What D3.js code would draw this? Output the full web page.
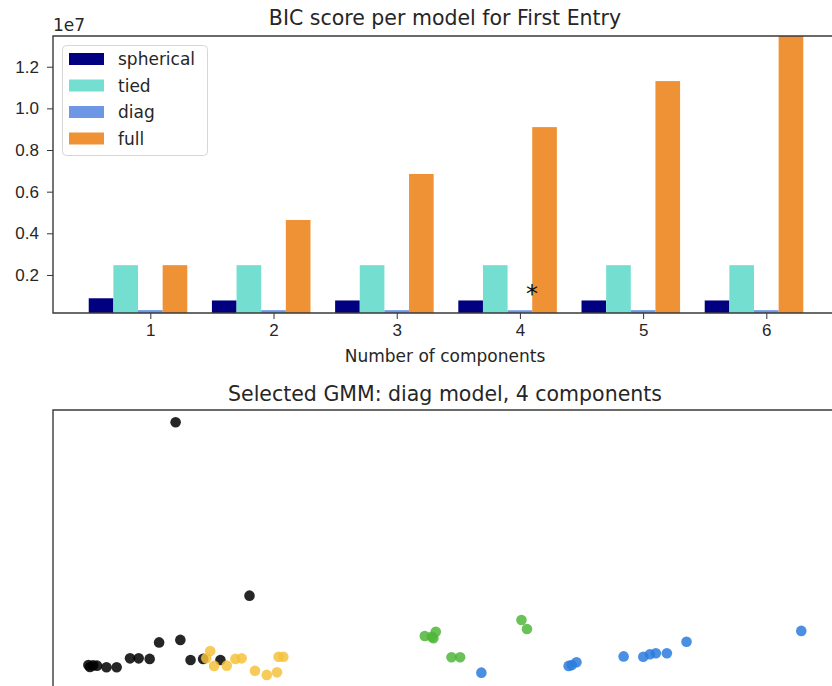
<!DOCTYPE html>
<html>

<head>
    <script src="https://d3js.org/d3.v7.min.js"></script>
    <style>
        body {
            margin: 0;
            background: #fff;
            font-family: "DejaVu Sans", sans-serif;
        }

        .tick text {
            font-size: 17px;
            fill: #262626;
        }

        .tick line {
            stroke: #333;
        }

        .spine {
            fill: none;
            stroke: #3a3a3a;
            stroke-width: 1.4px;
        }

        .title {
            font-size: 20.5px;
            fill: #262626;
        }

        .axis-label {
            font-size: 17px;
            fill: #262626;
        }
    </style>
</head>

<body>
    <script>
        // BIC scores per covariance type, for 1..6 components
        var components = [1, 2, 3, 4, 5, 6];
        var covTypes = ["spherical", "tied", "diag", "full"];
        var spherical = [880000, 775000, 775000, 775000, 775000, 775000];
        var tied = [2470000, 2470000, 2470000, 2470000, 2470000, 2470000];
        var diag = [312000, 310000, 310000, 305000, 310000, 310000];
        var full = [2470000, 4640000, 6850000, 9100000, 11310000, 13475000];
        var yTicks = [2000000, 4000000, 6000000, 8000000, 10000000, 12000000];
        var barColors = ["#000080", "#74dfd1", "#6e98e6", "#ef9236"];

        // selected model clusters (arbitrary projected units)
        var blackX = [15.6, 25.0, 13.5, 16.2, 4.5, 4.7, 5.1, 5.6, 6.8, 8.1, 9.8, 10.9, 12.3, 17.5, 19.1, 21.3];
        var blackY = [95.6, 33.7, 17.0, 17.9, 8.9, 8.2, 8.8, 8.7, 8.1, 8.1, 11.3, 11.3, 11.1, 10.7, 11.1, 10.7];
        var yellowX = [20.0, 19.5, 20.5, 22.1, 23.2, 24.0, 25.7, 27.2, 28.5, 28.7, 29.3];
        var yellowY = [13.9, 11.3, 8.6, 8.7, 11.1, 11.3, 6.9, 5.4, 6.3, 11.9, 11.9];
        var greenX = [47.3, 48.2, 48.7, 48.4, 50.7, 51.8, 59.6, 60.3];
        var greenY = [19.3, 19.0, 20.8, 18.5, 11.7, 11.7, 25.0, 21.8];
        var blueX = [54.5, 65.6, 66.0, 66.6, 72.6, 75.1, 75.95, 76.7, 78.1, 80.6, 95.2];
        var blueY = [6.2, 8.6, 8.9, 9.9, 12.0, 11.9, 12.75, 13.1, 13.1, 17.25, 21.1];
        var clusterColors = ["#000000", "#f4c23c", "#4fb63a", "#2c7bdd"];

        var svg = d3.select("body").append("svg")
            .attr("width", 832)
            .attr("height", 686);

        // ---------- top panel: BIC bars ----------
        var box1 = { left: 53, right: 839, top: 36, bottom: 313 };
        var series = [spherical, tied, diag, full];
        var allBic = d3.merge(series);
        var bicMin = d3.min(allBic), bicMax = d3.max(allBic);

        var x = d3.scaleLinear()
            .domain([0.21, 6.59])
            .range([box1.left, box1.right]);
        var y = d3.scaleLinear()
            .domain([bicMin * 1.01 - 0.01 * bicMax, bicMax])
            .range([box1.bottom, box1.top]);

        var g1 = svg.append("g");
        svg.append("clipPath").attr("id", "clip1")
            .append("rect")
            .attr("x", box1.left).attr("y", box1.top)
            .attr("width", box1.right - box1.left)
            .attr("height", box1.bottom - box1.top);

        var bars = [];
        series.forEach(function(s, i) {
            s.forEach(function(v, j) {
                bars.push({ type: i, n: components[j], v: v });
            });
        });

        g1.append("g")
            .attr("clip-path", "url(#clip1)")
            .selectAll("rect")
            .data(bars)
            .enter().append("rect")
            .attr("x", function(d) {
                return x(d.n + 0.2 * (d.type - 2) - 0.1);
            })
            .attr("width", x(0.41) - x(0.21))
            .attr("y", function(d) {
                return y(d.v);
            })
            .attr("height", function(d) {
                return box1.bottom - y(d.v);
            })
            .attr("fill", function(d) {
                return barColors[d.type];
            });

        // star at best model
        var best = d3.minIndex(allBic);
        var starX = (best % components.length) + 0.65 + 0.2 * Math.floor(best / components.length);
        g1.append("text")
            .attr("x", x(starX))
            .attr("y", y(bicMin * 0.97 + 0.03 * bicMax))
            .style("font-size", "24px")
            .attr("fill", "#111")
            .text("*");

        // axes
        var xAxis = g1.append("g")
            .attr("transform", "translate(0," + box1.bottom + ")")
            .call(d3.axisBottom(x).tickValues(components).tickSize(6).tickPadding(5).tickFormat(d3.format("d")));
        xAxis.select(".domain").remove();
        xAxis.selectAll("text").attr("dy", "0.71em");

        var yAxis = g1.append("g")
            .attr("transform", "translate(" + box1.left + ",0)")
            .call(d3.axisLeft(y).tickValues(yTicks).tickSize(6).tickPadding(8)
                .tickFormat(function(d) { return (d / 1e7).toFixed(1); }));
        yAxis.select(".domain").remove();

        g1.append("path")
            .attr("class", "spine")
            .attr("d", "M" + box1.right + "," + box1.top + "H" + box1.left + "V" + box1.bottom + "H" + box1.right);

        g1.append("text")
            .attr("x", box1.left)
            .attr("y", 31)
            .style("font-size", "17px")
            .attr("fill", "#262626")
            .text("1e7");

        g1.append("text")
            .attr("class", "title")
            .attr("x", 445)
            .attr("y", 25)
            .attr("text-anchor", "middle")
            .text("BIC score per model for First Entry");

        g1.append("text")
            .attr("class", "axis-label")
            .attr("x", 445)
            .attr("y", 362)
            .attr("text-anchor", "middle")
            .text("Number of components");

        // legend
        var legend = g1.append("g");
        legend.append("rect")
            .attr("x", 62.5).attr("y", 45.5)
            .attr("width", 145).attr("height", 110)
            .attr("rx", 4)
            .attr("fill", "#fff")
            .attr("fill-opacity", 0.8)
            .attr("stroke", "#d6d6d6");
        covTypes.forEach(function(name, i) {
            legend.append("rect")
                .attr("x", 69).attr("y", 53 + i * 26.5)
                .attr("width", 35).attr("height", 12)
                .attr("fill", barColors[i]);
            legend.append("text")
                .attr("x", 118).attr("y", 65 + i * 26.5)
                .style("font-size", "17px")
                .attr("fill", "#262626")
                .text(name);
        });

        // ---------- bottom panel: selected GMM ----------
        var box2 = { left: 53, right: 839, top: 410, bottom: 700 };
        var sx = d3.scaleLinear().domain([0, 100]).range([box2.left, box2.right]);
        var sy = d3.scaleLinear().domain([0, 100]).range([690, box2.top]);

        var g2 = svg.append("g");
        var clusters = [
            [blackX, blackY],
            [yellowX, yellowY],
            [greenX, greenY],
            [blueX, blueY]
        ];
        clusters.forEach(function(c, k) {
            var pts = c[0].map(function(v, i) {
                return [v, c[1][i]];
            });
            g2.append("g")
                .selectAll("circle")
                .data(pts)
                .enter().append("circle")
                .attr("cx", function(d) { return sx(d[0]); })
                .attr("cy", function(d) { return sy(d[1]); })
                .attr("r", 5.3)
                .attr("fill", clusterColors[k])
                .attr("fill-opacity", 0.85);
        });

        g2.append("path")
            .attr("class", "spine")
            .attr("d", "M" + box2.right + "," + box2.top + "H" + box2.left + "V" + box2.bottom);

        g2.append("text")
            .attr("class", "title")
            .attr("x", 445)
            .attr("y", 401)
            .attr("text-anchor", "middle")
            .text("Selected GMM: diag model, 4 components");
    </script>
</body>

</html>
